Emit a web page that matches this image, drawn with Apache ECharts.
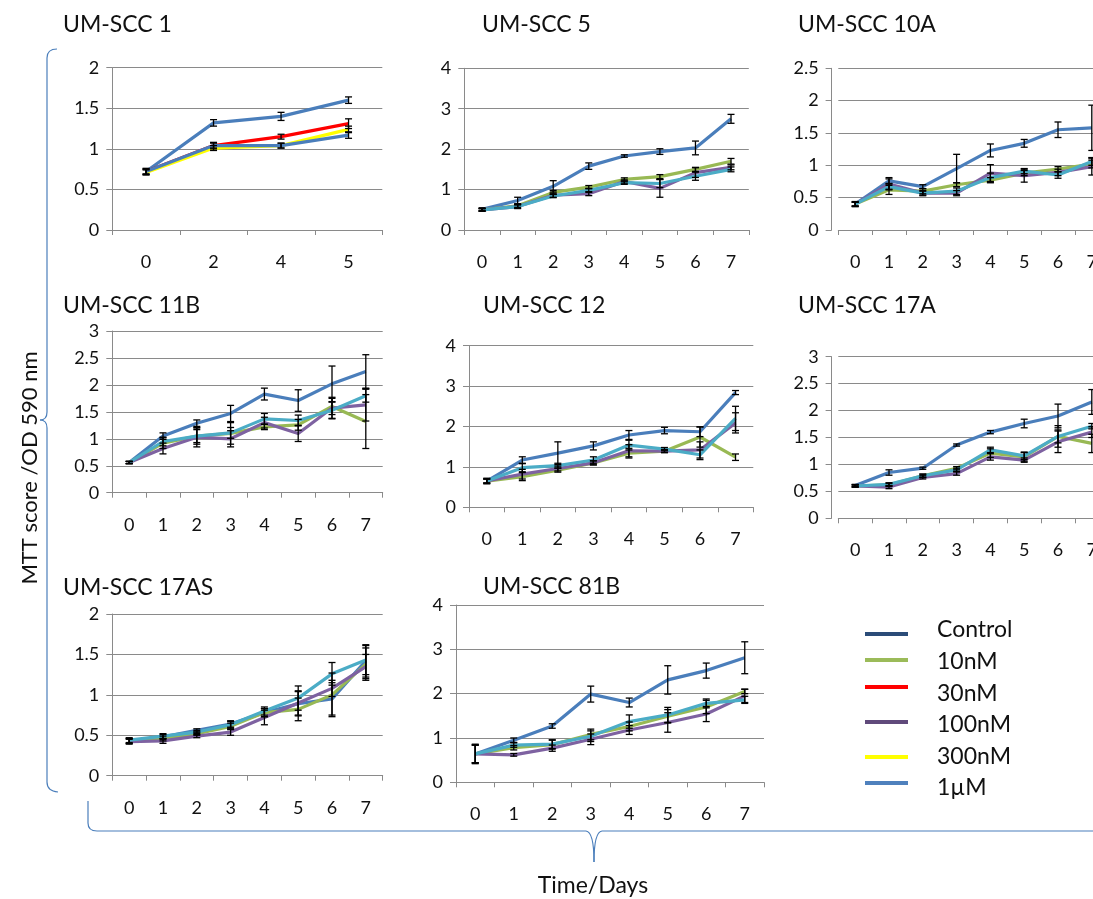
<!DOCTYPE html>
<html>
<head>
<meta charset="utf-8">
<script src="https://cdn.jsdelivr.net/npm/echarts/dist/echarts.min.js"></script>
<style>
  html, body { margin: 0; padding: 0; background: #ffffff; overflow: hidden; }
  /* the right-hand panels run past the page edge, so the canvas is wider than the view */
  #chart { width: 1115px; height: 899px; }
</style>
</head>
<body>
<div id="chart"></div>
<script>
// ---- Time points (days) ----
const daysShort = ['0', '2', '4', '5'];
const daysFull = ['0', '1', '2', '3', '4', '5', '6', '7'];

// ---- UM-SCC 1 ----
const scc1Control = [0.72, 1.32, 1.40, 1.60];
const scc1ControlErr = [0.04, 0.04, 0.05, 0.04];
const scc1_30nM = [0.72, 1.04, 1.15, 1.31];
const scc1_30nMErr = [0.03, 0.03, 0.03, 0.06];
const scc1_300nM = [0.71, 1.01, 1.04, 1.24];
const scc1_300nMErr = [0.03, 0.03, 0.03, 0.04];
const scc1_1uM = [0.72, 1.04, 1.04, 1.17];
const scc1_1uMErr = [0.03, 0.04, 0.03, 0.04];

// ---- UM-SCC 5 ----
const scc5Control = [0.51, 0.73, 1.08, 1.58, 1.83, 1.94, 2.03, 2.75];
const scc5ControlErr = [0.04, 0.08, 0.14, 0.08, 0.03, 0.07, 0.17, 0.11];
const scc5_10nM = [0.50, 0.60, 0.93, 1.06, 1.25, 1.32, 1.50, 1.70];
const scc5_10nMErr = [0.03, 0.04, 0.05, 0.04, 0.04, 0.05, 0.05, 0.07];
const scc5_100nM = [0.50, 0.58, 0.86, 0.90, 1.20, 1.03, 1.42, 1.55];
const scc5_100nMErr = [0.03, 0.05, 0.05, 0.05, 0.04, 0.22, 0.12, 0.06];
const scc5_1uM = [0.50, 0.58, 0.84, 0.98, 1.17, 1.15, 1.33, 1.50];
const scc5_1uMErr = [0.03, 0.04, 0.04, 0.05, 0.04, 0.10, 0.10, 0.06];

// ---- UM-SCC 10A ----
const scc10AControl = [0.40, 0.76, 0.67, 0.95, 1.23, 1.34, 1.55, 1.58];
const scc10AControlErr = [0.04, 0.05, 0.03, 0.22, 0.10, 0.06, 0.12, 0.35];
const scc10A_10nM = [0.40, 0.62, 0.60, 0.70, 0.77, 0.88, 0.94, 1.02];
const scc10A_10nMErr = [0.03, 0.07, 0.04, 0.03, 0.04, 0.04, 0.04, 0.06];
const scc10A_100nM = [0.40, 0.71, 0.57, 0.57, 0.88, 0.84, 0.89, 0.98];
const scc10A_100nMErr = [0.03, 0.08, 0.03, 0.04, 0.13, 0.10, 0.05, 0.13];
const scc10A_1uM = [0.40, 0.67, 0.57, 0.60, 0.81, 0.91, 0.85, 1.06];
const scc10A_1uMErr = [0.03, 0.05, 0.04, 0.05, 0.07, 0.04, 0.05, 0.06];

// ---- UM-SCC 11B ----
const scc11BControl = [0.56, 1.05, 1.29, 1.47, 1.83, 1.71, 2.02, 2.25];
const scc11BControlErr = [0.02, 0.06, 0.06, 0.15, 0.11, 0.20, 0.33, 0.31];
const scc11B_10nM = [0.56, 0.92, 1.05, 1.10, 1.22, 1.26, 1.60, 1.32];
const scc11B_10nMErr = [0.02, 0.10, 0.15, 0.20, 0.05, 0.10, 0.15, 0.50];
const scc11B_100nM = [0.56, 0.82, 1.03, 1.00, 1.30, 1.10, 1.57, 1.63];
const scc11B_100nMErr = [0.02, 0.10, 0.18, 0.15, 0.10, 0.15, 0.20, 0.30];
const scc11B_1uM = [0.56, 0.95, 1.05, 1.11, 1.37, 1.34, 1.53, 1.80];
const scc11B_1uMErr = [0.02, 0.08, 0.12, 0.10, 0.10, 0.10, 0.15, 0.12];

// ---- UM-SCC 12 ----
const scc12Control = [0.65, 1.17, 1.34, 1.52, 1.79, 1.90, 1.87, 2.84];
const scc12ControlErr = [0.07, 0.08, 0.28, 0.10, 0.11, 0.08, 0.12, 0.05];
const scc12_10nM = [0.65, 0.76, 0.92, 1.10, 1.34, 1.39, 1.74, 1.24];
const scc12_10nMErr = [0.05, 0.10, 0.05, 0.05, 0.12, 0.03, 0.25, 0.08];
const scc12_100nM = [0.65, 0.82, 0.96, 1.10, 1.40, 1.39, 1.42, 2.09];
const scc12_100nMErr = [0.05, 0.12, 0.06, 0.05, 0.15, 0.04, 0.20, 0.25];
const scc12_1uM = [0.65, 0.98, 1.03, 1.17, 1.54, 1.44, 1.30, 2.20];
const scc12_1uMErr = [0.05, 0.10, 0.06, 0.08, 0.12, 0.04, 0.12, 0.30];

// ---- UM-SCC 17A ----
const scc17AControl = [0.61, 0.85, 0.93, 1.36, 1.60, 1.76, 1.90, 2.16];
const scc17AControlErr = [0.02, 0.05, 0.02, 0.02, 0.03, 0.08, 0.22, 0.23];
const scc17A_10nM = [0.60, 0.62, 0.79, 0.93, 1.21, 1.14, 1.52, 1.39];
const scc17A_10nMErr = [0.02, 0.03, 0.03, 0.03, 0.08, 0.08, 0.20, 0.17];
const scc17A_100nM = [0.60, 0.58, 0.76, 0.83, 1.14, 1.08, 1.42, 1.60];
const scc17A_100nMErr = [0.02, 0.03, 0.03, 0.03, 0.06, 0.04, 0.20, 0.10];
const scc17A_1uM = [0.60, 0.63, 0.79, 0.90, 1.27, 1.16, 1.52, 1.71];
const scc17A_1uMErr = [0.02, 0.03, 0.03, 0.03, 0.05, 0.07, 0.12, 0.05];

// ---- UM-SCC 17AS ----
const scc17ASControl = [0.43, 0.48, 0.56, 0.64, 0.78, 0.89, 0.95, 1.42];
const scc17ASControlErr = [0.03, 0.03, 0.02, 0.04, 0.05, 0.15, 0.20, 0.20];
const scc17AS_10nM = [0.43, 0.46, 0.52, 0.61, 0.78, 0.82, 1.00, 1.38];
const scc17AS_10nMErr = [0.03, 0.03, 0.02, 0.04, 0.05, 0.14, 0.27, 0.20];
const scc17AS_100nM = [0.42, 0.43, 0.49, 0.54, 0.72, 0.90, 1.08, 1.35];
const scc17AS_100nMErr = [0.03, 0.03, 0.02, 0.04, 0.09, 0.15, 0.10, 0.15];
const scc17AS_1uM = [0.44, 0.49, 0.54, 0.63, 0.80, 0.96, 1.26, 1.43];
const scc17AS_1uMErr = [0.03, 0.03, 0.02, 0.04, 0.05, 0.15, 0.14, 0.18];

// ---- UM-SCC 81B ----
const scc81BControl = [0.64, 0.95, 1.27, 1.99, 1.80, 2.31, 2.52, 2.81];
const scc81BControlErr = [0.22, 0.05, 0.05, 0.18, 0.10, 0.32, 0.17, 0.36];
const scc81B_10nM = [0.64, 0.78, 0.85, 1.08, 1.26, 1.49, 1.70, 2.05];
const scc81B_10nMErr = [0.20, 0.05, 0.10, 0.12, 0.10, 0.15, 0.15, 0.05];
const scc81B_100nM = [0.64, 0.62, 0.77, 0.97, 1.18, 1.35, 1.54, 1.95];
const scc81B_100nMErr = [0.20, 0.03, 0.07, 0.12, 0.10, 0.22, 0.17, 0.15];
const scc81B_1uM = [0.64, 0.84, 0.86, 1.04, 1.37, 1.52, 1.78, 1.86];
const scc81B_1uMErr = [0.20, 0.05, 0.10, 0.12, 0.15, 0.17, 0.10, 0.08];

// ---- Legend entries ----
const legendNames = ['Control', '10nM', '30nM', '100nM', '300nM', '1\u00b5M'];

// ---- Styling ----
const FONT = 'Lato, "Open Sans", sans-serif';
const TEXT = '#111111';
const AXIS_GRAY = '#8a8a8a';
const BRACE_BLUE = '#4A7EBB';
const lineColors = {
  'Control': '#4A7EBB', '10nM': '#98B954', '30nM': '#FF0000',
  '100nM': '#7E62A1', '300nM': '#FFFF00', '1\u00b5M': '#4BACC6'
};
const legendColors = ['#2B4C78', '#9BBB59', '#FF0000', '#604A7B', '#FFFF00', '#4F81BD'];

// Panels: title, category labels, y range and the series drawn in each
const panels = [
  { title: 'UM-SCC 1', days: daysShort, yMax: 2, step: 0.5, series: [
    ['Control', scc1Control, scc1ControlErr],
    ['30nM', scc1_30nM, scc1_30nMErr],
    ['300nM', scc1_300nM, scc1_300nMErr],
    ['1\u00b5M', scc1_1uM, scc1_1uMErr, '#4A7EBB']] },
  { title: 'UM-SCC 5', days: daysFull, yMax: 4, step: 1, series: [
    ['Control', scc5Control, scc5ControlErr],
    ['10nM', scc5_10nM, scc5_10nMErr],
    ['100nM', scc5_100nM, scc5_100nMErr],
    ['1\u00b5M', scc5_1uM, scc5_1uMErr]] },
  { title: 'UM-SCC 10A', days: daysFull, yMax: 2.5, step: 0.5, series: [
    ['Control', scc10AControl, scc10AControlErr],
    ['10nM', scc10A_10nM, scc10A_10nMErr],
    ['100nM', scc10A_100nM, scc10A_100nMErr],
    ['1\u00b5M', scc10A_1uM, scc10A_1uMErr]] },
  { title: 'UM-SCC 11B', days: daysFull, yMax: 3, step: 0.5, series: [
    ['Control', scc11BControl, scc11BControlErr],
    ['10nM', scc11B_10nM, scc11B_10nMErr],
    ['100nM', scc11B_100nM, scc11B_100nMErr],
    ['1\u00b5M', scc11B_1uM, scc11B_1uMErr]] },
  { title: 'UM-SCC 12', days: daysFull, yMax: 4, step: 1, series: [
    ['Control', scc12Control, scc12ControlErr],
    ['10nM', scc12_10nM, scc12_10nMErr],
    ['100nM', scc12_100nM, scc12_100nMErr],
    ['1\u00b5M', scc12_1uM, scc12_1uMErr]] },
  { title: 'UM-SCC 17A', days: daysFull, yMax: 3, step: 0.5, series: [
    ['Control', scc17AControl, scc17AControlErr],
    ['10nM', scc17A_10nM, scc17A_10nMErr],
    ['100nM', scc17A_100nM, scc17A_100nMErr],
    ['1\u00b5M', scc17A_1uM, scc17A_1uMErr]] },
  { title: 'UM-SCC 17AS', days: daysFull, yMax: 2, step: 0.5, series: [
    ['Control', scc17ASControl, scc17ASControlErr],
    ['10nM', scc17AS_10nM, scc17AS_10nMErr],
    ['100nM', scc17AS_100nM, scc17AS_100nMErr],
    ['1\u00b5M', scc17AS_1uM, scc17AS_1uMErr]] },
  { title: 'UM-SCC 81B', days: daysFull, yMax: 4, step: 1, series: [
    ['Control', scc81BControl, scc81BControlErr],
    ['10nM', scc81B_10nM, scc81B_10nMErr],
    ['100nM', scc81B_100nM, scc81B_100nMErr],
    ['1\u00b5M', scc81B_1uM, scc81B_1uMErr]] }
];

// Layout of each panel: plot rect, y-axis offset, title anchor
const layout = [
  { left: 112.3, top: 67.7, width: 270, height: 162.3, yOffset: 0, tx: 63, ty: 25 },
  { left: 464.3, top: 68.3, width: 284.5, height: 161.7, yOffset: 0, tx: 482, ty: 25 },
  { left: 838.3, top: 68.3, width: 270.4, height: 161.7, yOffset: 6.7, tx: 798, ty: 25 },
  { left: 112.3, top: 331, width: 270.4, height: 161.7, yOffset: 0, tx: 63, ty: 306 },
  { left: 469, top: 345.7, width: 284.3, height: 161.6, yOffset: 0, tx: 483, ty: 306 },
  { left: 838.3, top: 356.7, width: 270.4, height: 161.6, yOffset: 6.7, tx: 798, ty: 306 },
  { left: 112.3, top: 614, width: 270.4, height: 161.7, yOffset: 0, tx: 63, ty: 588 },
  { left: 456, top: 605, width: 308, height: 177.3, yOffset: 0, tx: 483, ty: 587 }
];

const grids = [], xAxes = [], yAxes = [], series = [], graphics = [];

// Error bar: vertical whisker with short caps
function errorBarRender(params, api) {
  const x = api.value(0);
  const lo = api.coord([x, api.value(1)]);
  const hi = api.coord([x, api.value(2)]);
  const cap = 3.5;
  const style = { stroke: '#000000', lineWidth: 1.3 };
  return {
    type: 'group',
    children: [
      { type: 'line', shape: { x1: lo[0], y1: lo[1], x2: hi[0], y2: hi[1] }, style },
      { type: 'line', shape: { x1: lo[0] - cap, y1: lo[1], x2: lo[0] + cap, y2: lo[1] }, style },
      { type: 'line', shape: { x1: hi[0] - cap, y1: hi[1], x2: hi[0] + cap, y2: hi[1] }, style }
    ]
  };
}

panels.forEach((p, i) => {
  const L = layout[i];
  grids.push({ left: L.left, top: L.top, width: L.width, height: L.height, containLabel: false });
  xAxes.push({
    type: 'category', gridIndex: i, data: p.days, boundaryGap: true,
    axisLine: { lineStyle: { color: AXIS_GRAY, width: 1 } },
    axisTick: { show: true, interval: 0, length: 5, lineStyle: { color: AXIS_GRAY } },
    axisLabel: { interval: 0, margin: 23, fontSize: 18, fontFamily: FONT, color: TEXT },
    splitLine: { show: false }
  });
  yAxes.push({
    type: 'value', gridIndex: i, min: 0, max: p.yMax, interval: p.step, offset: L.yOffset,
    axisLine: { show: true, lineStyle: { color: AXIS_GRAY, width: 1 } },
    axisTick: { show: true, length: 6, lineStyle: { color: AXIS_GRAY } },
    axisLabel: { margin: 13, fontSize: 18, fontFamily: FONT, color: TEXT },
    splitLine: { show: true, lineStyle: { color: AXIS_GRAY, width: 1 } }
  });
  p.series.forEach(([name, vals, errs, colorOverride]) => {
    const color = colorOverride || lineColors[name];
    series.push({
      type: 'line', name, xAxisIndex: i, yAxisIndex: i, data: vals,
      symbol: 'none', animation: false, z: 3,
      lineStyle: { color, width: 3.2 }, itemStyle: { color }
    });
    series.push({
      type: 'custom', name: name + ' SD', xAxisIndex: i, yAxisIndex: i,
      renderItem: errorBarRender, animation: false, z: 4,
      encode: { x: 0, y: [1, 2] },
      data: vals.map((v, k) => [k, v - errs[k], v + errs[k]])
    });
  });
  graphics.push({
    type: 'text', x: L.tx, y: L.ty,
    style: { text: p.title, font: '23px ' + FONT, fill: TEXT, verticalAlign: 'middle' }
  });
});

// Legend drawn as swatches and labels
const legendSwatchY = [634, 660, 687, 722, 757, 783];
const legendTextY = [630, 662, 694, 725, 757, 788];
legendNames.forEach((name, k) => {
  graphics.push({
    type: 'line', shape: { x1: 865, y1: legendSwatchY[k], x2: 908, y2: legendSwatchY[k] },
    style: { stroke: legendColors[k], lineWidth: 4 }
  });
  graphics.push({
    type: 'text', x: 937, y: legendTextY[k],
    style: { text: name, font: '23px ' + FONT, fill: TEXT, verticalAlign: 'middle' }
  });
});

// Braces grouping the panels, built from straight and curved segments
function seg(x1, y1, x2, y2) {
  return { type: 'line', shape: { x1, y1, x2, y2 }, style: { stroke: BRACE_BLUE, lineWidth: 1.2 } };
}
function curve(x1, y1, cpx, cpy, x2, y2) {
  return { type: 'bezierCurve', shape: { x1, y1, x2, y2, cpx1: cpx, cpy1: cpy },
           style: { stroke: BRACE_BLUE, lineWidth: 1.2, fill: null } };
}
graphics.push({
  type: 'group',
  children: [
    curve(57, 49, 47, 49, 47, 58),
    seg(47, 58, 47, 412),
    curve(47, 412, 47, 420, 40, 420),
    curve(40, 420, 47, 420, 47, 428),
    seg(47, 428, 47, 782),
    curve(47, 782, 47, 791, 58, 792)
  ]
});
graphics.push({
  type: 'group',
  children: [
    seg(88, 801, 88, 823),
    curve(88, 823, 88, 831, 97, 831),
    seg(97, 831, 586, 831),
    curve(586, 831, 594, 832, 594, 862),
    curve(594, 862, 594, 832, 602, 831),
    seg(602, 831, 1110, 831)
  ]
});

// Axis titles
graphics.push({
  type: 'text', x: 30, y: 468, rotation: Math.PI / 2,
  style: { text: 'MTT score /OD 590 nm', font: '22px ' + FONT, fill: TEXT, align: 'center', verticalAlign: 'middle' }
});
graphics.push({
  type: 'text', x: 593, y: 886,
  style: { text: 'Time/Days', font: '23px ' + FONT, fill: TEXT, align: 'center', verticalAlign: 'middle' }
});

const chart = echarts.init(document.getElementById('chart'), null, { renderer: 'canvas' });
chart.setOption({
  backgroundColor: '#ffffff',
  animation: false,
  grid: grids,
  xAxis: xAxes,
  yAxis: yAxes,
  series: series,
  graphic: graphics
});
</script>
</body>
</html>
